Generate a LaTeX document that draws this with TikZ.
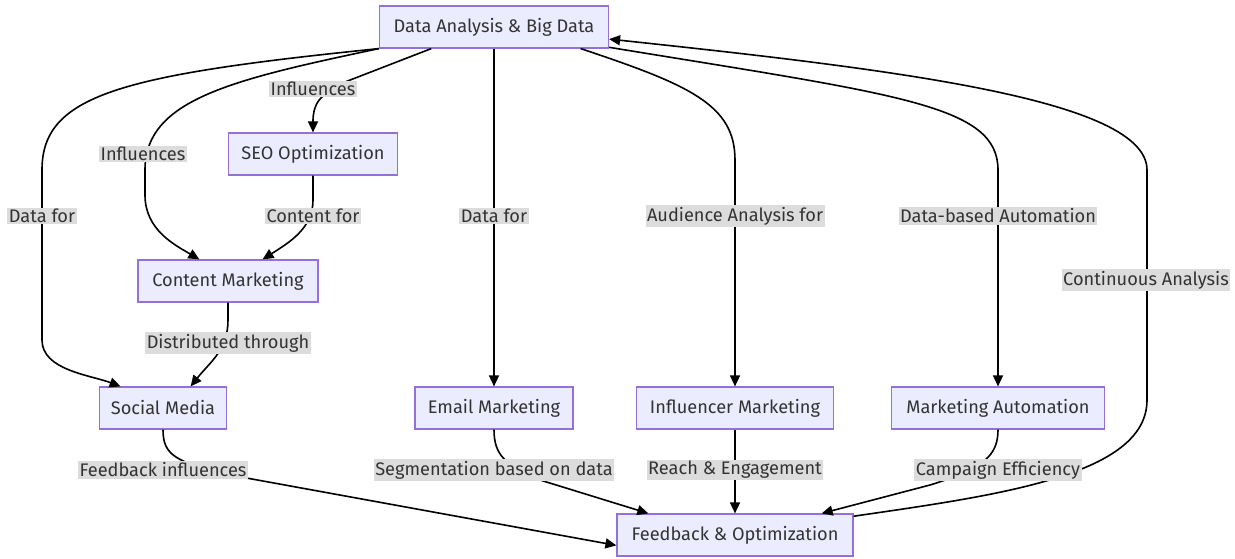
\documentclass[tikz,border=0pt]{standalone}
\usepackage{fontspec}
\setmainfont{Fira Sans}
\usetikzlibrary{arrows.meta}
\definecolor{boxfill}{HTML}{ECECFF}
\definecolor{boxline}{HTML}{9370DB}
\definecolor{txtcol}{HTML}{333333}
\definecolor{lblfill}{HTML}{DCDCDC}
\tikzset{
  box/.style={draw=boxline, fill=boxfill, line width=1.2pt, text=txtcol,
    minimum height=42pt, inner xsep=4pt, font=\fontsize{18.2}{22}\selectfont},
  lbl/.style={fill=lblfill, text=txtcol, inner xsep=1.5pt, inner ysep=1.5pt,
    font=\fontsize{18.2}{22}\selectfont},
  link/.style={line width=1.6pt, -{Triangle[length=11pt,width=10pt]}}
}
\begin{document}
\begin{tikzpicture}[x=1pt, y=-1pt]
    \useasboundingbox (0,0) rectangle (1235,558);

    % Hub
    \node[box, minimum width=229pt] (da) at (494,27) {Data Analysis \& Big Data};

    % Upper channels
    \node[box, minimum width=169pt] (seo) at (313,154) {SEO Optimization};
    \node[box, minimum width=180pt] (cm) at (228,281) {Content Marketing};

    % Channel row
    \node[box, minimum width=127pt] (sm) at (163,408) {Social Media};
    \node[box, minimum width=158pt] (em) at (494,408) {Email Marketing};
    \node[box, minimum width=197pt] (inf) at (735,408) {Influencer Marketing};
    \node[box, minimum width=213pt] (ma) at (998,408) {Marketing Automation};

    % Feedback
    \node[box, minimum width=236pt] (fb) at (735,535) {Feedback \& Optimization};

    % Hub to channels
    \draw[link] (da.south west) .. controls (120,75) and (42,95) .. (42,170)
        -- (42,340) .. controls (42,370) and (90,375) .. (sm.153);
    \draw[link] (da.south west) .. controls (230,80) and (145,100) .. (145,170)
        -- (145,195) .. controls (145,230) and (175,245) .. (cm.143);
    \draw[link] (da.199) -- (345,82) .. controls (318,95) and (313,105) .. (seo.north);
    \draw[link] (seo.south) -- (313,200) .. controls (313,228) and (290,242) .. (cm.32);
    \draw[link] (cm.south) -- (228,320) .. controls (228,350) and (210,362) .. (sm.38);
    \draw[link] (da.south) -- (em.north);
    \draw[link] (da.-14) .. controls (690,85) and (735,105) .. (735,160) -- (inf.north);
    \draw[link] (da.-10) .. controls (900,95) and (998,105) .. (998,170) -- (ma.north);

    % Channels to feedback
    \draw[link] (sm.south) .. controls (163,455) and (175,462) .. (230,475) -- (fb.185);
    \draw[link] (em.south) .. controls (494,455) and (505,465) .. (540,480) -- (fb.166);
    \draw[link] (inf.south) -- (fb.north);
    \draw[link] (ma.south) .. controls (998,455) and (985,468) .. (930,485) -- (fb.14);

    % Feedback loop
    \draw[link] (fb.9) .. controls (1000,495) and (1147,475) .. (1147,400)
        -- (1147,170) .. controls (1147,100) and (900,70) .. (da.-6);

    % Edge labels
    \node[lbl] (l1) at (42,216) {Data for};
    \node[lbl] (l2) at (143,154) {Influences};
    \node[lbl] (l3) at (313,89) {Influences};
    \node[lbl] (l4) at (313,216) {Content for};
    \node[lbl] (l5) at (228,343) {Distributed through};
    \node[lbl] (l6) at (494,216) {Data for};
    \node[lbl] (l7) at (735,216) {Audience Analysis for};
    \node[lbl] (l8) at (998,216) {Data-based Automation};
    \node[lbl] (l9) at (1146,280) {Continuous Analysis};
    \node[lbl] (l10) at (163,470) {Feedback influences};
    \node[lbl] (l11) at (494,470) {Segmentation based on data};
    \node[lbl] (l12) at (735,470) {Reach \& Engagement};
    \node[lbl] (l13) at (998,470) {Campaign Efficiency};
\end{tikzpicture}
\end{document}
